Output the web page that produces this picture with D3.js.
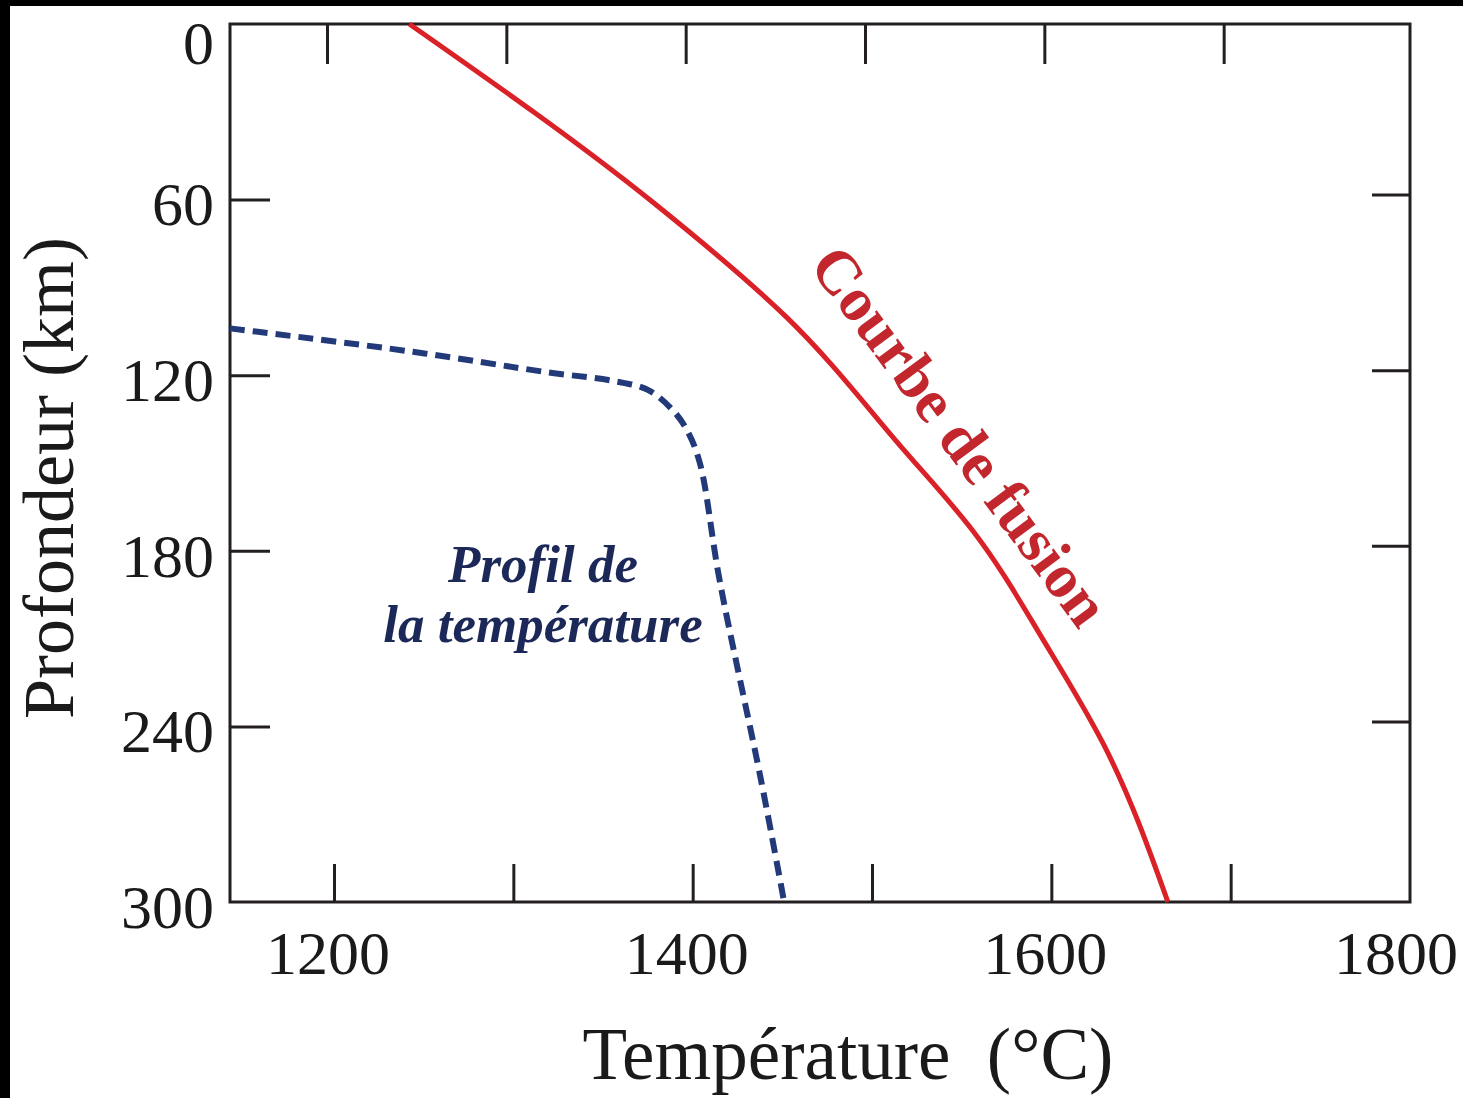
<!DOCTYPE html>
<html>
<head>
<meta charset="utf-8">
<script src="https://cdn.jsdelivr.net/npm/d3@7"></script>
<style>
  body { margin: 0; background: #fff; }
  text { font-family: "Liberation Serif", "Times New Roman", serif; }
</style>
</head>
<body>
<div id="chart"></div>
<script>
// melting curve (solidus) and geotherm
var fusionTemp  = [1242, 1378, 1452, 1517, 1556, 1598, 1629, 1665];
var fusionDepth = [0, 61, 100, 145, 173, 213, 246, 300];

var profileTemp  = [1142, 1244, 1319, 1356, 1375, 1389, 1397, 1404, 1415, 1438, 1451];
var profileDepth = [104, 112, 119, 122, 125, 132, 139, 150, 190, 258, 300];

var xTicks = [1200, 1300, 1400, 1500, 1600, 1700];
var xLabels = [1200, 1400, 1600, 1800];
var yTicks = [0, 60, 120, 180, 240, 300];

var W = 1463, H = 1098;

var svg = d3.select("#chart").append("svg")
  .attr("width", W)
  .attr("height", H);

// black edges of the scan
svg.append("rect").attr("x", 0).attr("y", 0).attr("width", W).attr("height", 6).attr("fill", "#000");
svg.append("rect").attr("x", 0).attr("y", 0).attr("width", 10).attr("height", H).attr("fill", "#000");

var x = d3.scaleLinear().domain([1142, 1800]).range([230, 1410]);
var y = d3.scaleLinear().domain([0, 300]).range([24, 902]);

var axisColor = "#231f20";

// tick marks, drawn inward
function styleTicks(g) {
  g.select(".domain").remove();
  g.selectAll(".tick line").attr("stroke", axisColor).attr("stroke-width", 3);
  g.selectAll(".tick text").remove();
}

svg.append("g")
  .attr("transform", "translate(0," + y(300) + ")")
  .call(d3.axisBottom(x).tickValues(xTicks).tickSize(-38).tickFormat(""))
  .call(styleTicks);

svg.append("g")
  .attr("transform", "translate(-7," + y(0) + ")")
  .call(d3.axisTop(x).tickValues(xTicks).tickSize(-40).tickFormat(""))
  .call(styleTicks);

svg.append("g")
  .attr("transform", "translate(" + x(1142) + ",0)")
  .call(d3.axisLeft(y).tickValues(yTicks.slice(1, 5)).tickSize(-40).tickFormat(""))
  .call(styleTicks);

svg.append("g")
  .attr("transform", "translate(" + x(1800) + ",-5)")
  .call(d3.axisRight(y).tickValues(yTicks.slice(1, 5)).tickSize(-38).tickFormat(""))
  .call(styleTicks);

// frame
svg.append("rect")
  .attr("x", x(1142))
  .attr("y", y(0))
  .attr("width", x(1800) - x(1142))
  .attr("height", y(300) - y(0))
  .attr("fill", "none")
  .attr("stroke", axisColor)
  .attr("stroke-width", 3);

// tick labels
svg.selectAll(".xlab")
  .data(xLabels)
  .enter().append("text")
  .attr("class", "xlab")
  .attr("x", function(d) { return Math.min(x(d) - 6, W - 67); })
  .attr("y", 974)
  .attr("text-anchor", "middle")
  .attr("font-size", 62)
  .attr("fill", "#1a1a1a")
  .text(function(d) { return d; });

svg.selectAll(".ylab")
  .data(yTicks)
  .enter().append("text")
  .attr("class", "ylab")
  .attr("x", 214)
  .attr("y", function(d) { return Math.max(y(d) + 4, y(0) + 18); })
  .attr("dy", "0.35em")
  .attr("text-anchor", "end")
  .attr("font-size", 62)
  .attr("fill", "#1a1a1a")
  .text(function(d) { return d; });

// axis titles
svg.append("text")
  .attr("x", 848)
  .attr("y", 1079)
  .attr("text-anchor", "middle")
  .attr("font-size", 73)
  .attr("fill", "#1a1a1a")
  .style("white-space", "pre")
  .text("Température  (°C)");

svg.append("text")
  .attr("transform", "translate(73,478) rotate(-90)")
  .attr("text-anchor", "middle")
  .attr("font-size", 72)
  .attr("fill", "#1a1a1a")
  .text("Profondeur (km)");

// curves
var fusionLine = d3.line()
  .x(function(d, i) { return x(fusionTemp[i]); })
  .y(function(d, i) { return y(fusionDepth[i]); })
  .curve(d3.curveMonotoneY);

svg.append("path")
  .attr("d", fusionLine(fusionTemp))
  .attr("fill", "none")
  .attr("stroke", "#da2128")
  .attr("stroke-width", 5);

var profileLine = d3.line()
  .x(function(d, i) { return x(profileTemp[i]); })
  .y(function(d, i) { return y(profileDepth[i]); })
  .curve(d3.curveCatmullRom.alpha(0.5));

svg.append("path")
  .attr("d", profileLine(profileTemp))
  .attr("fill", "none")
  .attr("stroke", "#233a7a")
  .attr("stroke-width", 6)
  .attr("stroke-dasharray", "15,8");

// curve labels
svg.append("text")
  .attr("transform", "translate(960,436) rotate(53.4)")
  .attr("text-anchor", "middle")
  .attr("dy", "0.33em")
  .attr("font-size", 62)
  .attr("font-weight", "bold")
  .attr("fill", "#c1272d")
  .text("Courbe de fusion");

var profLabel = svg.append("text")
  .attr("text-anchor", "middle")
  .attr("font-size", 53)
  .attr("font-weight", "bold")
  .attr("font-style", "italic")
  .attr("fill", "#1c2858");
profLabel.append("tspan").attr("x", 543).attr("y", 582).text("Profil de");
profLabel.append("tspan").attr("x", 543).attr("y", 642).text("la température");
</script>
</body>
</html>
